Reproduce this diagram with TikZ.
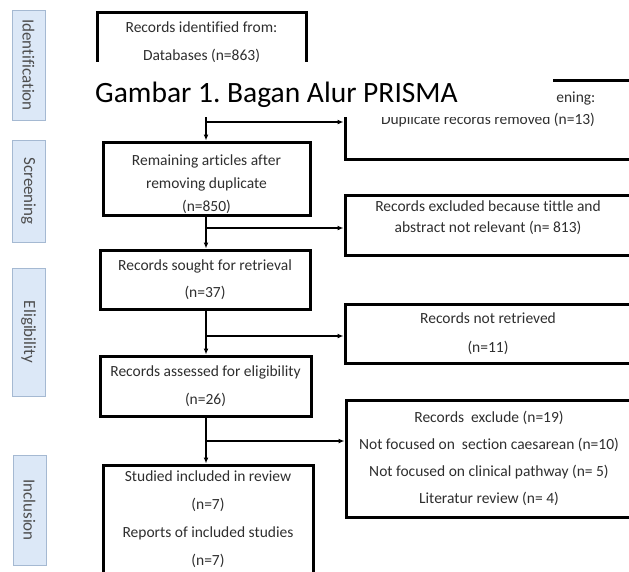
\documentclass[tikz,border=0pt]{standalone}
\usepackage{fontspec}
\setmainfont{Carlito}[Ligatures=NoCommon]
\usepackage{xcolor}
\usepackage{tikz}
\usetikzlibrary{arrows.meta, positioning}

\definecolor{phasefill}{HTML}{DCE8F7}
\definecolor{phaseline}{HTML}{A5B9D2}
\definecolor{boxtext}{HTML}{2E2E2E}

\frenchspacing

\begin{document}
\begin{tikzpicture}[
  x=1pt, y=-1pt,
  font=\fontsize{15.5}{27}\selectfont,
  box/.style={draw, rectangle, line width=3pt, align=center, inner sep=0pt, text=boxtext},
  sidebox/.style={box, minimum width=286pt},
  phase/.style={draw=phaseline, fill=phasefill, line width=0.8pt, rotate=-90, minimum height=33pt,
    minimum width=#1, inner sep=0pt, text=boxtext!85, font=\fontsize{17}{17}\selectfont},
  arrow/.style={-{Latex[length=6pt, width=5pt]}, line width=2pt}
]
\useasboundingbox (0,0) rectangle (629,571);
\clip (0,0) rectangle (629,571);

% Phases
\node[phase=110pt] (pident) at (28.5,65) {Identification};
\node[phase=102pt] (pscreen) at (28.5,191) {Screening};
\node[phase=128pt] (pelig) at (28.5,332) {Eligibility};
\node[phase=110pt] (pincl) at (29.5,510) {Inclusion};

% Main column
\node[box, minimum width=209pt, minimum height=60pt, font=\fontsize{15.5}{28}\selectfont] (ident) at (201.5,42)
  {Records identified from:\\Databases (n=863)};
\node[box, minimum width=207pt, minimum height=73pt, font=\fontsize{15.5}{23}\selectfont] (remain) at (206.5,178.5)
  {\mbox{}\\[-1pt]Remaining articles after\\removing duplicate\\(n=850)};
\node[box, minimum width=210pt, minimum height=59pt] (sought) at (205,279.5)
  {Records sought for retrieval\\(n=37)};
\node[box, minimum width=211pt, minimum height=60pt, font=\fontsize{15.5}{28}\selectfont] (assess) at (205.5,386)
  {Records assessed for eligibility\\(n=26)};
\node[box, minimum width=210pt, minimum height=108pt, font=\fontsize{15.5}{28}\selectfont] (incl) at (208,519)
  {Studied included in review\\(n=7)\\Reports of included studies\\(n=7)};

% Side boxes
\node[sidebox, minimum height=79pt, font=\fontsize{15.5}{22}\selectfont] (dup) at (488,119.5)
  {\phantom{Records removed before scr}ening:\\Duplicate records removed (n=13)\\ \mbox{}};
\node[sidebox, minimum height=60pt, font=\fontsize{15.5}{21}\selectfont] (excl) at (488,225)
  {Records excluded because tittle and\\abstract not relevant (n= 813)\\[-4pt] \mbox{}};
\node[sidebox, minimum height=59pt, font=\fontsize{15.5}{29}\selectfont] (notret) at (488,333.5)
  {Records not retrieved\\(n=11)};
\node[sidebox, minimum height=117pt] (reason) at (489,458.5)
  {Records\ \ exclude (n=19)\\Not focused on\ \ section caesarean (n=10)\\Not focused on clinical pathway (n= 5)\\Literatur review (n= 4)};

% Arrows
\coordinate (j1) at (206,122);
\coordinate (j2) at (206,228);
\coordinate (j3) at (206,336);
\coordinate (j4) at (206,441);
\draw[arrow] (ident.south -| j1) -- (remain.north -| j1);
\draw[arrow] (remain.south -| j2) -- (sought.north -| j2);
\draw[arrow] (sought.south -| j3) -- (assess.north -| j3);
\draw[arrow] (assess.south -| j4) -- (incl.north -| j4);
\draw[arrow] (j1) -- (j1 -| dup.west);
\draw[arrow] (j2) -- (j2 -| excl.west);
\draw[arrow] (j3) -- (j3 -| notret.west);
\draw[arrow] (j4) -- (j4 -| reason.west);

% Caption over the top
\node[fill=white, anchor=north west, inner xsep=5pt, inner ysep=0pt,
  text height=40pt, text depth=15pt, font=\fontsize{29.5}{29.5}\selectfont] (caption) at (90,62)
  {\makebox[453pt][l]{Gambar 1. Bagan Alur PRISMA}};

\end{tikzpicture}
\end{document}
